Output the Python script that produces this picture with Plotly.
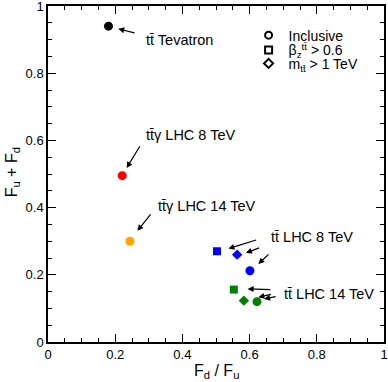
import plotly.graph_objects as go

# Data points (F_d/F_u, F_u + F_d)
names = ['tt Tevatron', 'tta LHC 8', 'tta LHC 14',
         'LHC8 incl', 'LHC8 beta', 'LHC8 mtt',
         'LHC14 incl', 'LHC14 beta', 'LHC14 mtt']
fd_over_fu = [0.18, 0.221, 0.244, 0.601, 0.503, 0.563, 0.622, 0.553, 0.583]
fu_plus_fd = [0.940, 0.495, 0.300, 0.212, 0.270, 0.260, 0.120, 0.156, 0.123]
colors = ['black', 'red', 'orange', 'blue', 'blue', 'blue', 'green', 'green', 'green']
symbols = ['circle', 'circle', 'circle', 'circle', 'square', 'diamond',
           'circle', 'square', 'diamond']

tick_vals = [0, 0.2, 0.4, 0.6, 0.8, 1]
tick_text = ['0', '0.2', '0.4', '0.6', '0.8', '1']

TT = 'tt\u0304'

# Label text and position (data coords)
label_text = [TT + ' Tevatron', TT + '\u03b3 LHC 8 TeV', TT + '\u03b3 LHC 14 TeV',
              TT + ' LHC 8 TeV', TT + ' LHC 14 TeV']
label_x = [0.286, 0.286, 0.322, 0.659, 0.695]
label_y = [0.899, 0.617, 0.405, 0.312, 0.143]

# Arrows: head (x, y) and tail (ax, ay)
arrow_x = [0.209, 0.234, 0.266, 0.537, 0.589, 0.626, 0.594, 0.626, 0.643]
arrow_y = [0.932, 0.518, 0.331, 0.278, 0.265, 0.232, 0.158, 0.133, 0.128]
arrow_ax = [0.262, 0.276, 0.309, 0.624, 0.633, 0.661, 0.666, 0.668, 0.682]
arrow_ay = [0.919, 0.587, 0.384, 0.305, 0.282, 0.265, 0.156, 0.143, 0.136]

legend_names = ['Inclusive',
                '\u03b2<sub>z</sub><sup>' + TT + '</sup> > 0.6',
                'm<sub>' + TT + '</sub> > 1 TeV']
legend_symbols = ['circle-open', 'square-open', 'diamond-open']
legend_rows = [0.912, 0.868, 0.828]

FONT = 'Liberation Sans, Arial, Helvetica, sans-serif'

fig = go.Figure()

for x, y, c, s in zip(fd_over_fu, fu_plus_fd, colors, symbols):
    fig.add_trace(go.Scatter(
        x=[x], y=[y], mode='markers', showlegend=False, cliponaxis=False,
        marker=dict(color=c, symbol=s, size=9 if s == 'circle' else 8,
                    line=dict(width=0)),
    ))

# one small legend per row so the rows can sit close together
legend_layouts = {}
for i, (name, sym, ry) in enumerate(zip(legend_names, legend_symbols, legend_rows)):
    key = 'legend' if i == 0 else f'legend{i + 1}'
    fig.add_trace(go.Scatter(
        x=[None], y=[None], mode='markers', name=name, legend=key,
        marker=dict(color='black', symbol=sym, size=7, line=dict(width=2, color='black')),
    ))
    legend_layouts[key] = dict(
        x=0.597, y=ry, xanchor='left', yanchor='middle',
        bgcolor='rgba(0,0,0,0)', font=dict(size=14), itemwidth=30,
    )

annotations = []
for t, x, y in zip(label_text, label_x, label_y):
    annotations.append(dict(
        x=x, y=y, xref='x', yref='y', text=t, showarrow=False,
        xanchor='left', yanchor='middle', font=dict(size=14.5, color='black')
    ))
for x, y, ax, ay in zip(arrow_x, arrow_y, arrow_ax, arrow_ay):
    annotations.append(dict(
        x=x, y=y, ax=ax, ay=ay, xref='x', yref='y', axref='x', ayref='y',
        text='', showarrow=True, arrowhead=2, arrowsize=1, arrowwidth=1.2,
        arrowcolor='black'
    ))

# axis titles
annotations.append(dict(
    x=0.5, y=-0.055, xref='paper', yref='paper', xanchor='center', yanchor='top',
    text='F<sub>d</sub> / F<sub>u</sub>', showarrow=False, font=dict(size=16)
))
annotations.append(dict(
    x=-0.107, y=0.505, xref='paper', yref='paper', xanchor='center', yanchor='middle',
    text='F<sub>u</sub> + F<sub>d</sub>', textangle=-90, showarrow=False,
    font=dict(size=16)
))

axis_common = dict(
    range=[0, 1], tickmode='array', tickvals=tick_vals, ticktext=tick_text,
    ticks='inside', ticklen=8, tickwidth=1, ticklabeloverflow='allow',
    tickcolor='black', showline=True, linecolor='black', linewidth=1.5,
    mirror='allticks', showgrid=False, zeroline=False, automargin=False,
    minor=dict(dtick=0.05, ticks='inside', ticklen=4, tickcolor='black', showgrid=False),
    tickfont=dict(size=13, color='black'),
)

fig.update_layout(
    width=388, height=382,
    margin=dict(l=48, r=4, t=6, b=40),
    plot_bgcolor='white', paper_bgcolor='white',
    font=dict(family=FONT, color='black'),
    xaxis=axis_common,
    yaxis=axis_common,
    annotations=annotations,
    showlegend=True,
    **legend_layouts,
)

fig.write_html('out.html', config={'displayModeBar': False},
               post_script="document.body.style.margin='0';")
